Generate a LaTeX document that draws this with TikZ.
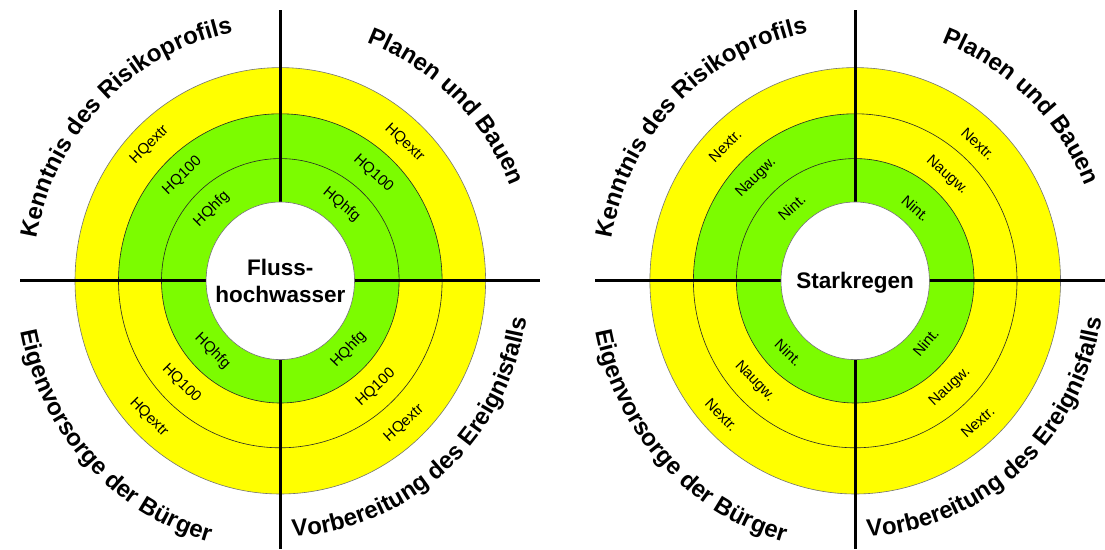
\documentclass[tikz,border=0pt]{standalone}
\usepackage{fontspec}
\setmainfont{Liberation Sans}
\usetikzlibrary{decorations.text}
\definecolor{ryellow}{RGB}{255,255,0}
\definecolor{rgreen}{RGB}{124,252,0}
\newcommand{\myouterfont}{\fontsize{24}{24}\selectfont\bfseries}
\begin{document}
\begin{tikzpicture}[x=1pt,y=1pt,
  ringline/.style={draw=black!85, line width=0.6pt},
  edgeline/.style={draw=black!55, line width=0.6pt},
  axisline/.style={line width=2.7pt, black},
  ringlabel/.style={font=\fontsize{15}{15}\selectfont, inner sep=0pt},
  centertext/.style={font=\fontsize{22.5}{27}\selectfont\bfseries, align=center, inner sep=0pt},
  arctext/.style={decorate, decoration={text along path, text align=center, text={|\myouterfont|#1}}}]
\useasboundingbox (0,0) rectangle (1105,549);
\fill[white] (0,0) rectangle (1105,549);

% ---------- centres and axis end points ----------
\coordinate (A) at (280.3,268.2);
\coordinate (B) at (855.2,268.2);
\coordinate (AL) at (20,268.2);
\coordinate (AR) at (540,268.2);
\coordinate (AT) at (280.3,538.5);
\coordinate (AB) at (280.3,0);
\coordinate (BL) at (595,268.2);
\coordinate (BR) at (1105,268.2);
\coordinate (BT) at (855.2,538.5);
\coordinate (BB) at (855.2,0);

% ---------- left diagram fills ----------
\fill[ryellow] (A) ellipse [x radius=205.3pt, y radius=213.2pt];
\fill[rgreen] (A) -- ++(0:161.8pt and 167pt) arc[start angle=0, end angle=180, x radius=161.8pt, y radius=167pt] -- cycle;
\fill[rgreen] (A) ellipse [x radius=118.8pt, y radius=122.2pt];
\draw[ringline] (A) ellipse [x radius=161.8pt, y radius=167pt];
\draw[ringline] (A) ellipse [x radius=118.8pt, y radius=122.2pt];
\draw[edgeline] (A) ellipse [x radius=205.3pt, y radius=213.2pt];

% ---------- right diagram fills ----------
\fill[ryellow] (B) ellipse [x radius=205.3pt, y radius=213.2pt];
\fill[rgreen] (B) -- ++(90:161.8pt and 167pt) arc[start angle=90, end angle=180, x radius=161.8pt, y radius=167pt] -- cycle;
\fill[rgreen] (B) ellipse [x radius=118.8pt, y radius=122.2pt];
\draw[ringline] (B) ellipse [x radius=161.8pt, y radius=167pt];
\draw[ringline] (B) ellipse [x radius=118.8pt, y radius=122.2pt];
\draw[edgeline] (B) ellipse [x radius=205.3pt, y radius=213.2pt];

% ---------- axes ----------
\draw[axisline] (AL) -- (AR);
\draw[axisline] (AT) -- (AB);
\draw[axisline] (BL) -- (BR);
\draw[axisline] (BT) -- (BB);

% ---------- white centres ----------
\fill[white] (A) ellipse [x radius=74.2pt, y radius=78.8pt];
\draw[edgeline] (A) ellipse [x radius=74.2pt, y radius=78.8pt];
\fill[white] (B) ellipse [x radius=74.2pt, y radius=78.8pt];
\draw[edgeline] (B) ellipse [x radius=74.2pt, y radius=78.8pt];

\node[centertext] (ctA) at (A) {Fluss-\\hochwasser};
\node[centertext] (ctB) at ([yshift=-1.5pt]B) {Starkregen};

% ---------- ring labels, left ----------
\node[ringlabel, rotate=45] (a1) at ([shift={(135:185pt and 192pt)}]A) {HQextr};
\node[ringlabel, rotate=44] (a2) at ([shift={(134:141pt and 146pt)}]A) {HQ100};
\node[ringlabel, rotate=45] (a3) at ([shift={(135:97pt and 101pt)}]A) {HQhfg};
\node[ringlabel, rotate=-43] (a4) at ([shift={(47:182pt and 189pt)}]A) {HQextr};
\node[ringlabel, rotate=-42] (a5) at ([shift={(48:139pt and 144pt)}]A) {HQ100};
\node[ringlabel, rotate=-40] (a6) at ([shift={(50:95pt and 99pt)}]A) {HQhfg};
\node[ringlabel, rotate=-45] (a7) at ([shift={(225:96pt and 100pt)}]A) {HQhfg};
\node[ringlabel, rotate=-45] (a8) at ([shift={(225:140pt and 145pt)}]A) {HQ100};
\node[ringlabel, rotate=-45] (a9) at ([shift={(225:186pt and 193pt)}]A) {HQextr};
\node[ringlabel, rotate=46] (a10) at ([shift={(316:95pt and 99pt)}]A) {HQhfg};
\node[ringlabel, rotate=43] (a11) at ([shift={(313:140pt and 146pt)}]A) {HQ100};
\node[ringlabel, rotate=42] (a12) at ([shift={(312:185pt and 192pt)}]A) {HQextr};

% ---------- ring labels, right ----------
\node[ringlabel, rotate=45] (b1) at ([shift={(135:184pt and 191pt)}]B) {Nextr.};
\node[ringlabel, rotate=45] (b2) at ([shift={(135:140pt and 146pt)}]B) {Naugw.};
\node[ringlabel, rotate=42] (b3) at ([shift={(132:95pt and 99pt)}]B) {Nint.};
\node[ringlabel, rotate=-43] (b4) at ([shift={(47:180pt and 187pt)}]B) {Nextr.};
\node[ringlabel, rotate=-42] (b5) at ([shift={(48:137pt and 142pt)}]B) {Naugw.};
\node[ringlabel, rotate=-41] (b6) at ([shift={(49:92pt and 96pt)}]B) {Nint.};
\node[ringlabel, rotate=-44] (b7) at ([shift={(226:96pt and 100pt)}]B) {Nint.};
\node[ringlabel, rotate=-46] (b8) at ([shift={(224:140pt and 145pt)}]B) {Naugw.};
\node[ringlabel, rotate=-46] (b9) at ([shift={(224:186pt and 193pt)}]B) {Nextr.};
\node[ringlabel, rotate=50] (b10) at ([shift={(320:92pt and 96pt)}]B) {Nint.};
\node[ringlabel, rotate=43] (b11) at ([shift={(313:139pt and 145pt)}]B) {Naugw.};
\node[ringlabel, rotate=42] (b12) at ([shift={(312:183pt and 190pt)}]B) {Nextr.};

% ---------- outer curved labels ----------
\foreach \C in {A,B} {
  \path[arctext={Kenntnis des Risikoprofils}] ([shift={(186:247pt and 253pt)}]\C) arc[start angle=186, end angle=85, x radius=247pt, y radius=253pt];
  \path[arctext={Planen und Bauen}] ([shift={(95:248pt and 254pt)}]\C) arc[start angle=95, end angle=-3, x radius=248pt, y radius=254pt];
  \path[arctext={Eigenvorsorge der Bürger}] ([shift={(171:264pt and 271pt)}]\C) arc[start angle=171, end angle=274.6, x radius=264pt, y radius=271pt];
  \path[arctext={Vorbereitung des Ereignisfalls}] ([shift={(262:249pt and 256pt)}]\C) arc[start angle=262, end angle=362, x radius=249pt, y radius=256pt];
}
\end{tikzpicture}
\end{document}
